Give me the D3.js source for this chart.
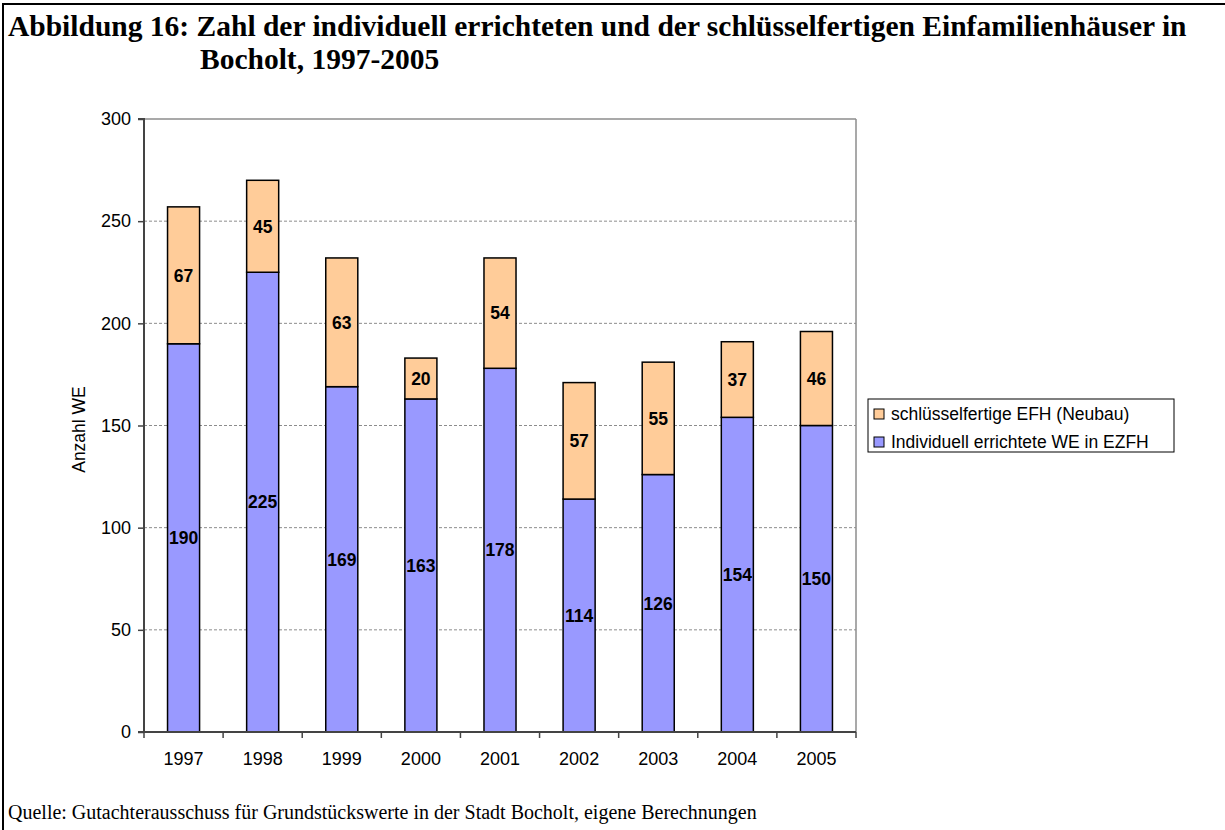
<!DOCTYPE html>
<html>
<head>
<meta charset="utf-8">
<script src="https://cdn.jsdelivr.net/npm/d3@7"></script>
<style>
  body { margin: 0; background: #fff; }
  svg { display: block; }
</style>
</head>
<body>
<svg id="chart" width="1225" height="830"></svg>
<script>
// Jahre und Werte
const years = ["1997", "1998", "1999", "2000", "2001", "2002", "2003", "2004", "2005"];
const individuell = [190, 225, 169, 163, 178, 114, 126, 154, 150];
const schluesselfertig = [67, 45, 63, 20, 54, 57, 55, 37, 46];
const yTicks = [0, 50, 100, 150, 200, 250, 300];

const seriesNames = ["Individuell errichtete WE in EZFH", "schlüsselfertige EFH (Neubau)"];
const colors = ["#9999ff", "#ffcc99"];

const svg = d3.select("#chart");

// Rahmen um die Abbildung
svg.append("line").attr("x1", 2).attr("x2", 1225).attr("y1", 4).attr("y2", 4)
    .style("stroke", "#000").style("stroke-width", 2);
svg.append("line").attr("x1", 3).attr("x2", 3).attr("y1", 3).attr("y2", 830)
    .style("stroke", "#000").style("stroke-width", 2);

// Titel
const serif = "'Liberation Serif', 'Times New Roman', serif";
svg.append("text")
    .attr("x", 8).attr("y", 36)
    .style("font-family", serif)
    .style("font-weight", "bold")
    .style("font-size", "29.5px")
    .text("Abbildung 16: Zahl der individuell errichteten und der schlüsselfertigen Einfamilienhäuser in");
svg.append("text")
    .attr("x", 200).attr("y", 69)
    .style("font-family", serif)
    .style("font-weight", "bold")
    .style("font-size", "29.5px")
    .text("Bocholt, 1997-2005");

// Quelle
svg.append("text")
    .attr("x", 8).attr("y", 819)
    .style("font-family", serif)
    .style("font-size", "20px")
    .text("Quelle: Gutachterausschuss für Grundstückswerte in der Stadt Bocholt, eigene Berechnungen");

// Plotbereich
const plotLeft = 144, plotRight = 856, plotTop = 119, plotBottom = 732;

const x = d3.scaleBand()
    .domain(years)
    .range([plotLeft, plotRight])
    .paddingInner(0.595)
    .paddingOuter(0.2975);

const y = d3.scaleLinear()
    .domain([0, 300])
    .range([plotBottom, plotTop]);

const font = "'Liberation Sans', Arial, sans-serif";

// Gitterlinien
svg.append("g").selectAll("line")
    .data(yTicks.filter(d => d > 0 && d < 300))
    .enter().append("line")
    .attr("x1", plotLeft).attr("x2", plotRight)
    .attr("y1", d => y(d)).attr("y2", d => y(d))
    .style("stroke", "#8c8c8c")
    .style("stroke-width", 1)
    .style("stroke-dasharray", "3,2");

// oberer und rechter Rand des Plotbereichs
svg.append("line").attr("x1", plotLeft).attr("x2", plotRight).attr("y1", plotTop).attr("y2", plotTop)
    .style("stroke", "#8c8c8c").style("stroke-width", 1.5);
svg.append("line").attr("x1", plotRight).attr("x2", plotRight).attr("y1", plotTop).attr("y2", plotBottom)
    .style("stroke", "#8c8c8c").style("stroke-width", 1.5);

// gestapelte Daten
const table = years.map((yr, i) => ({ year: yr, ind: individuell[i], sch: schluesselfertig[i] }));
const stack = d3.stack().keys(["ind", "sch"])(table);

const layers = svg.append("g").selectAll("g")
    .data(stack)
    .enter().append("g")
    .style("fill", (d, i) => colors[i]);

layers.selectAll("rect")
    .data(d => d)
    .enter().append("rect")
    .attr("x", d => x(d.data.year))
    .attr("width", x.bandwidth())
    .attr("y", d => y(d[1]))
    .attr("height", d => y(d[0]) - y(d[1]))
    .style("stroke", "#000")
    .style("stroke-width", 1.5);

// Werte in den Balken
layers.selectAll("text")
    .data(d => d)
    .enter().append("text")
    .attr("x", d => x(d.data.year) + x.bandwidth() / 2)
    .attr("y", d => (y(d[0]) + y(d[1])) / 2)
    .attr("dy", "0.36em")
    .attr("text-anchor", "middle")
    .style("fill", "#000")
    .style("font-family", font)
    .style("font-weight", "bold")
    .style("font-size", "17.5px")
    .text(d => d[1] - d[0]);

// Achsen
const yAxis = svg.append("g")
    .attr("transform", `translate(${plotLeft},0)`)
    .call(d3.axisLeft(y).tickValues(yTicks).tickSize(6).tickPadding(7));

const xAxis = svg.append("g")
    .attr("transform", `translate(0,${plotBottom})`)
    .call(d3.axisBottom(x).tickSize(0).tickPadding(20));

[yAxis, xAxis].forEach(ax => {
    ax.select(".domain").style("stroke", "#444").style("stroke-width", 2);
    ax.selectAll(".tick line").style("stroke", "#444").style("stroke-width", 1.5);
    ax.selectAll("text")
        .style("font-family", font)
        .style("font-size", "18px")
        .style("fill", "#000");
});
yAxis.select(".domain").attr("d", `M-6,${plotTop}H0V${plotBottom}H-6`);
xAxis.select(".domain").attr("d", `M${plotLeft},0H${plotRight}`);

// Teilstriche zwischen den Kategorien
svg.append("g").selectAll("line")
    .data(d3.range(years.length + 1))
    .enter().append("line")
    .attr("x1", d => plotLeft + d * x.step())
    .attr("x2", d => plotLeft + d * x.step())
    .attr("y1", plotBottom).attr("y2", plotBottom + 6)
    .style("stroke", "#444").style("stroke-width", 1.5);

// Achsentitel
svg.append("text")
    .attr("transform", `translate(85,${(plotTop + plotBottom) / 2 + 4}) rotate(-90)`)
    .attr("text-anchor", "middle")
    .style("font-family", font)
    .style("font-size", "17.5px")
    .text("Anzahl WE");

// Legende
const legend = svg.append("g").attr("transform", "translate(868,399)");
legend.append("rect")
    .attr("width", 306).attr("height", 53)
    .style("fill", "#fff").style("stroke", "#000").style("stroke-width", 1);

const legendItems = [1, 0];
legend.selectAll(".sw")
    .data(legendItems)
    .enter().append("rect")
    .attr("x", 6)
    .attr("y", (d, i) => 10 + i * 28)
    .attr("width", 10).attr("height", 10)
    .style("fill", d => colors[d])
    .style("stroke", "#000").style("stroke-width", 1);

legend.selectAll(".lt")
    .data(legendItems)
    .enter().append("text")
    .attr("x", 23)
    .attr("y", (d, i) => 15 + i * 28)
    .attr("dy", "0.36em")
    .style("font-family", font)
    .style("font-size", "17.5px")
    .text(d => seriesNames[d]);
</script>
</body>
</html>
